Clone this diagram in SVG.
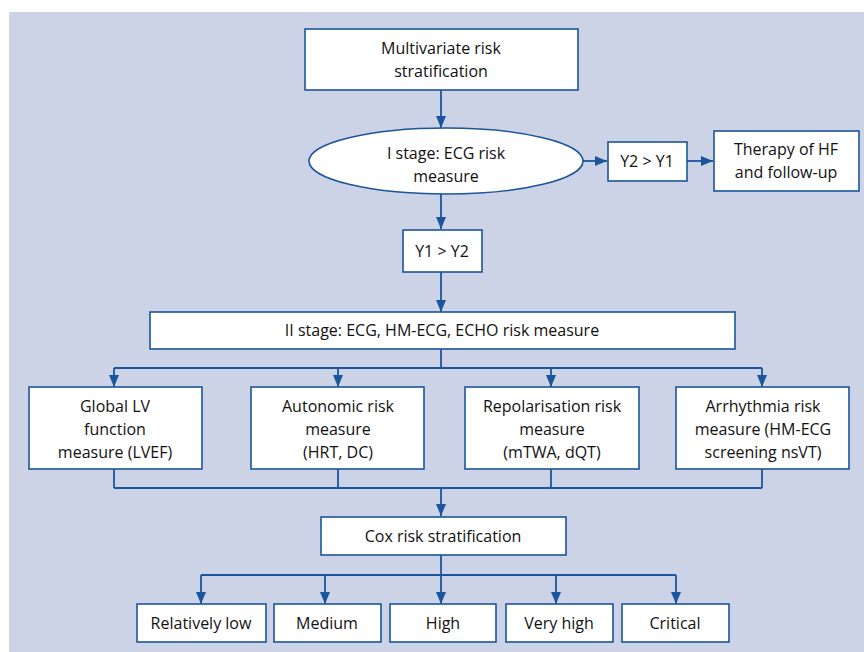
<svg xmlns="http://www.w3.org/2000/svg" width="864" height="652" viewBox="0 0 864 652">
<defs>
<marker id="ah" viewBox="0 0 12 10" refX="12" refY="5" markerWidth="12" markerHeight="10" markerUnits="userSpaceOnUse" orient="auto">
<path d="M0,0 L12,5 L0,10 z" fill="#1b559b"/>
</marker>
<style>
.bx{fill:#fff;stroke:#1b559b;stroke-width:1.6}
.t{font-family:"Open Sans","Liberation Sans",sans-serif;font-size:16px;fill:#111;text-anchor:middle}
.c{fill:none;stroke:#1b559b;stroke-width:1.8}
.a{fill:none;stroke:#1b559b;stroke-width:1.8;marker-end:url(#ah)}
</style>
</defs>
<rect x="9" y="12" width="855" height="640" fill="#cdd3e6"/>
<g id="connectors">
<path class="a" d="M441,90 V128"/>
<path class="a" d="M583,161 H607"/>
<path class="a" d="M687,161 H713"/>
<path class="a" d="M441,194 V229"/>
<path class="a" d="M441,272 V312"/>
<path class="c" d="M441,349 V368 M114,368 H762"/>
<path class="a" d="M114,368 V387"/>
<path class="a" d="M338,368 V387"/>
<path class="a" d="M551,368 V387"/>
<path class="a" d="M762,368 V387"/>
<path class="c" d="M114,469 V488 M338,469 V488 M551,469 V488 M762,469 V488 M114,488 H762"/>
<path class="a" d="M441,488 V516"/>
<path class="c" d="M441,555 V575 M201,575 H676"/>
<path class="a" d="M201,575 V604"/>
<path class="a" d="M325,575 V604"/>
<path class="a" d="M441,575 V604"/>
<path class="a" d="M556,575 V604"/>
<path class="a" d="M676,575 V604"/>
</g>
<g id="multivariate">
<rect class="bx" x="305" y="29" width="273" height="61"/>
<text class="t" x="441" y="54">Multivariate risk</text>
<text class="t" x="441" y="77">stratification</text>
</g>
<g id="stage1">
<ellipse class="bx" cx="446" cy="161" rx="137" ry="33"/>
<text class="t" x="446" y="159">I stage: ECG risk</text>
<text class="t" x="446" y="182">measure</text>
</g>
<g id="y2gty1">
<rect class="bx" x="608" y="142" width="79" height="39"/>
<text class="t" x="647" y="167">Y2 &gt; Y1</text>
</g>
<g id="therapy">
<rect class="bx" x="714" y="131" width="145" height="60"/>
<text class="t" x="786" y="155">Therapy of HF</text>
<text class="t" x="786" y="178">and follow-up</text>
</g>
<g id="y1gty2">
<rect class="bx" x="403" y="230" width="79" height="42"/>
<text class="t" x="442" y="257">Y1 &gt; Y2</text>
</g>
<g id="stage2">
<rect class="bx" x="150" y="312" width="585" height="37"/>
<text class="t" x="442" y="336">II stage: ECG, HM-ECG, ECHO risk measure</text>
</g>
<g id="globallv">
<rect class="bx" x="29" y="387" width="173" height="82"/>
<text class="t" x="115" y="412">Global LV</text>
<text class="t" x="115" y="435">function</text>
<text class="t" x="115" y="458">measure (LVEF)</text>
</g>
<g id="autonomic">
<rect class="bx" x="251" y="387" width="173" height="82"/>
<text class="t" x="338" y="412">Autonomic risk</text>
<text class="t" x="338" y="435">measure</text>
<text class="t" x="338" y="458">(HRT, DC)</text>
</g>
<g id="repolarisation">
<rect class="bx" x="465" y="387" width="174" height="82"/>
<text class="t" x="552" y="412">Repolarisation risk</text>
<text class="t" x="552" y="435">measure</text>
<text class="t" x="552" y="458">(mTWA, dQT)</text>
</g>
<g id="arrhythmia">
<rect class="bx" x="676" y="387" width="173" height="82"/>
<text class="t" x="763" y="412">Arrhythmia risk</text>
<text class="t" x="763" y="435">measure (HM-ECG</text>
<text class="t" x="763" y="458">screening nsVT)</text>
</g>
<g id="cox">
<rect class="bx" x="321" y="517" width="245" height="38"/>
<text class="t" x="443" y="542">Cox risk stratification</text>
</g>
<g id="rellow">
<rect class="bx" x="137" y="604" width="129" height="38"/>
<text class="t" x="201" y="629">Relatively low</text>
</g>
<g id="medium">
<rect class="bx" x="274" y="604" width="107" height="38"/>
<text class="t" x="327" y="629">Medium</text>
</g>
<g id="high">
<rect class="bx" x="390" y="604" width="106" height="38"/>
<text class="t" x="443" y="629">High</text>
</g>
<g id="veryhigh">
<rect class="bx" x="506" y="604" width="107" height="38"/>
<text class="t" x="559" y="629">Very high</text>
</g>
<g id="critical">
<rect class="bx" x="622" y="604" width="107" height="38"/>
<text class="t" x="675" y="629">Critical</text>
</g>
</svg>
